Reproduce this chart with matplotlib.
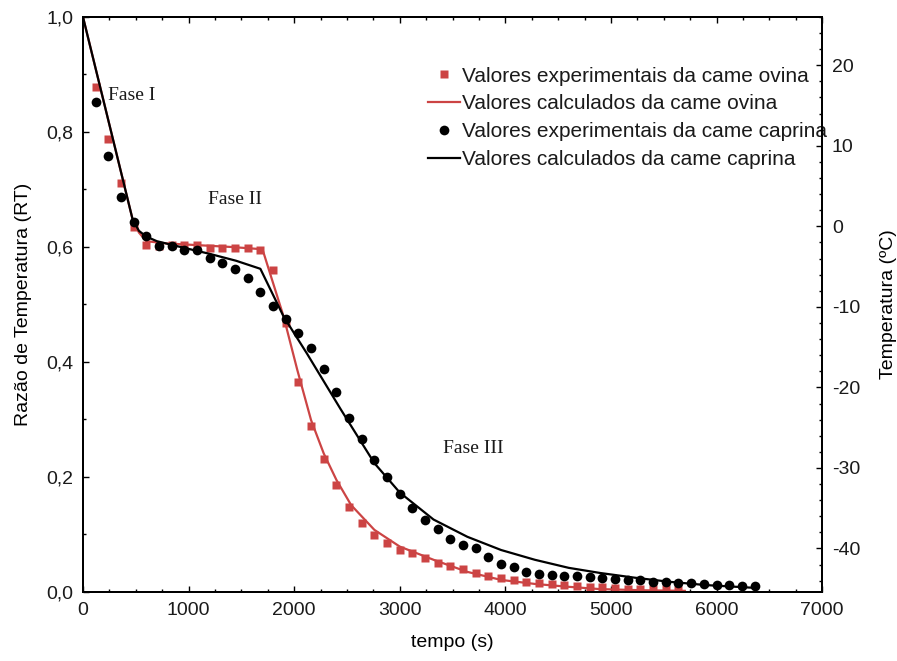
import numpy as np
import matplotlib
matplotlib.use('Agg')
import matplotlib.pyplot as plt
from matplotlib.ticker import MultipleLocator, FuncFormatter

# dados
t_ovina = [120, 240, 360, 480, 600, 720, 840, 960, 1080, 1200, 1320, 1440, 1560, 1680,
           1800, 1920, 2040, 2160, 2280, 2400, 2520, 2640, 2760, 2880, 3000, 3120, 3240,
           3360, 3480, 3600, 3720, 3840, 3960, 4080, 4200, 4320, 4440, 4560, 4680, 4800,
           4920, 5040, 5160, 5280, 5400, 5520, 5640]
rt_ovina = [0.879, 0.788, 0.711, 0.634, 0.603, 0.602, 0.603, 0.603, 0.603, 0.599, 0.599,
            0.599, 0.599, 0.594, 0.560, 0.467, 0.366, 0.289, 0.232, 0.186, 0.148, 0.120,
            0.099, 0.085, 0.073, 0.068, 0.059, 0.051, 0.045, 0.040, 0.033, 0.027, 0.024,
            0.021, 0.018, 0.015, 0.014, 0.012, 0.011, 0.009, 0.008, 0.007, 0.006, 0.006,
            0.005, 0.005, 0.004]

t_caprina = [120, 240, 360, 480, 600, 720, 840, 960, 1080, 1200, 1320, 1440, 1560, 1680,
             1800, 1920, 2040, 2160, 2280, 2400, 2520, 2640, 2760, 2880, 3000, 3120, 3240,
             3360, 3480, 3600, 3720, 3840, 3960, 4080, 4200, 4320, 4440, 4560, 4680, 4800,
             4920, 5040, 5160, 5280, 5400, 5520, 5640, 5760, 5880, 6000, 6120, 6240, 6360]
rt_caprina = [0.852, 0.758, 0.686, 0.643, 0.619, 0.602, 0.602, 0.595, 0.594, 0.581, 0.572,
              0.561, 0.546, 0.522, 0.497, 0.475, 0.451, 0.425, 0.387, 0.347, 0.303, 0.266,
              0.230, 0.200, 0.170, 0.146, 0.125, 0.109, 0.092, 0.082, 0.076, 0.060, 0.049,
              0.043, 0.035, 0.031, 0.030, 0.028, 0.027, 0.026, 0.024, 0.022, 0.021, 0.020,
              0.018, 0.017, 0.016, 0.015, 0.014, 0.013, 0.012, 0.011, 0.010]

# curvas calculadas
tc_ovina = [0, 470, 530, 600, 800, 1100, 1400, 1700, 1900, 2030, 2160, 2280, 2400, 2540,
            2760, 3000, 3320, 3640, 3960, 4280, 4600, 4900, 5300, 5700]
rc_ovina = [1.0, 0.648, 0.625, 0.610, 0.606, 0.603, 0.600, 0.596, 0.479, 0.386, 0.299,
            0.241, 0.195, 0.151, 0.108, 0.079, 0.056, 0.035, 0.021, 0.014, 0.009, 0.005,
            0.003, 0.002]

tc_caprina = [0, 470, 530, 600, 700, 900, 1200, 1450, 1680, 1900, 2120, 2440, 2760, 3000,
              3320, 3640, 3960, 4280, 4600, 4900, 5220, 5540, 5900, 6380]
rc_caprina = [1.0, 0.648, 0.628, 0.618, 0.610, 0.601, 0.588, 0.576, 0.562, 0.479, 0.415,
              0.318, 0.224, 0.173, 0.126, 0.096, 0.073, 0.056, 0.042, 0.033, 0.025, 0.018,
              0.012, 0.007]

vermelho = '#cc4444'

plt.rcParams['font.family'] = 'Liberation Sans'
plt.rcParams['axes.unicode_minus'] = False
plt.rcParams['text.color'] = '#1a1a1a'

fig = plt.figure(figsize=(8.97, 6.61), dpi=100)
ax = fig.add_axes([0.0925, 0.1044, 0.824, 0.870])

ax.plot(t_ovina, rt_ovina, 's', color=vermelho, markersize=6, mec='none',
        label='Valores experimentais da came ovina')
ax.plot(tc_ovina, rc_ovina, '-', color=vermelho, lw=1.6,
        label='Valores calculados da came ovina')
ax.plot(t_caprina, rt_caprina, 'o', color='black', markersize=7, mec='none',
        label='Valores experimentais da came caprina')
ax.plot(tc_caprina, rc_caprina, '-', color='black', lw=1.6,
        label='Valores calculados da came caprina')

ax.set_xlim(0, 7000)
ax.set_ylim(0, 1.0)
ax.xaxis.set_major_locator(MultipleLocator(1000))
ax.xaxis.set_minor_locator(MultipleLocator(250))
ax.yaxis.set_major_locator(MultipleLocator(0.2))
ax.yaxis.set_minor_locator(MultipleLocator(0.1))
ax.yaxis.set_major_formatter(FuncFormatter(lambda v, p: ('%.1f' % v).replace('.', ',')))
ax.tick_params(which='both', direction='in', top=True, right=False, labelsize=14,
               width=1.0, pad=7, labelcolor='#1a1a1a')
ax.tick_params(which='major', length=4)
ax.tick_params(which='minor', length=2.5)
for s in ax.spines.values():
    s.set_linewidth(1.4)

ax.set_xlabel('tempo (s)', fontsize=14, labelpad=11)
ax.set_ylabel('Razão de Temperatura (RT)', fontsize=14, labelpad=10)

# eixo da temperatura
ax2 = ax.twinx()
ax2.set_ylim(-45.4, 26)
ax2.yaxis.set_major_locator(MultipleLocator(10))
ax2.yaxis.set_minor_locator(MultipleLocator(2))
ax2.tick_params(which='both', direction='in', labelsize=14, width=1.0, pad=7,
                labelcolor='#1a1a1a')
ax2.tick_params(which='major', length=4)
ax2.tick_params(which='minor', length=2.5)
ax2.set_ylabel('Temperatura (ºC)', fontsize=14, labelpad=14)
for s in ax2.spines.values():
    s.set_linewidth(1.4)

# fases
ax.text(237, 0.864, 'Fase I', family='Liberation Serif', fontsize=14, va='center')
ax.text(1187, 0.682, 'Fase II', family='Liberation Serif', fontsize=14, va='center')
ax.text(3409, 0.249, 'Fase III', family='Liberation Serif', fontsize=14, va='center')

leg = ax.legend(loc='upper left', bbox_to_anchor=(0.455, 0.928), frameon=False,
                fontsize=15, handlelength=1.55, handletextpad=0.1, labelspacing=0.42,
                borderaxespad=0)
leg.set_zorder(5)

fig.savefig('out.png', dpi=100)
